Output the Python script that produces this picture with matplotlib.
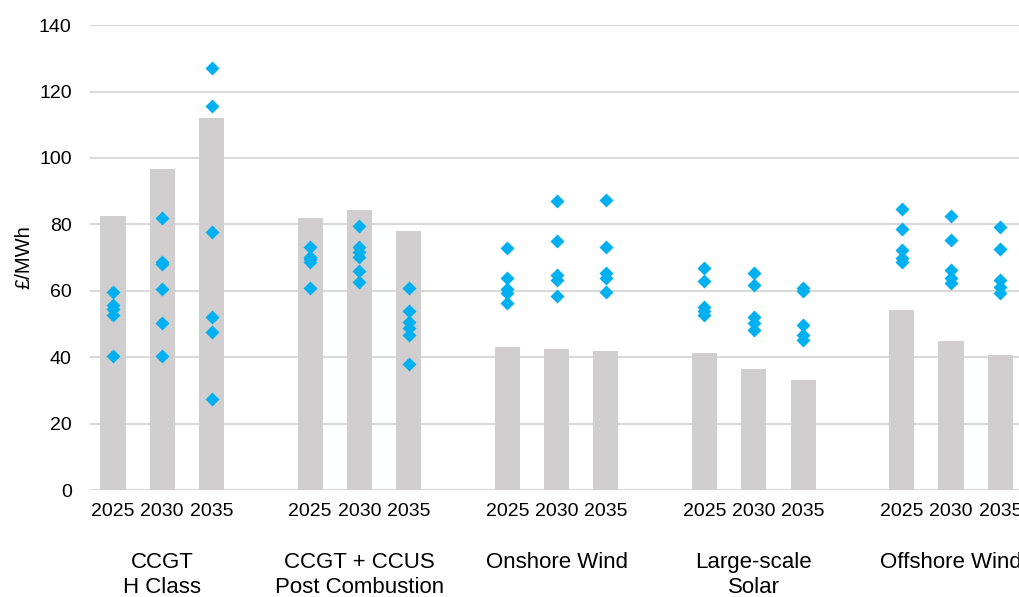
import matplotlib
matplotlib.use("Agg")
import matplotlib.pyplot as plt
import matplotlib.transforms as mtransforms
import numpy as np

plt.rcParams["font.family"] = ["Liberation Sans", "DejaVu Sans"]

technologies = ["CCGT\nH Class", "CCGT + CCUS\nPost Combustion", "Onshore Wind",
                "Large-scale\nSolar", "Offshore Wind"]
years = ["2025", "2030", "2035"]

# bar value (central estimate) per technology and year
bar_values = [
    [82.5, 96.7, 112.0],
    [81.9, 84.3, 78.0],
    [43.2, 42.4, 41.8],
    [41.2, 36.6, 33.1],
    [54.3, 44.8, 40.8],
]

# individual scenario points (diamonds)
points = [
    [[59.7, 55.8, 54.6, 52.8, 40.3],
     [81.8, 68.8, 68.0, 60.4, 50.2, 40.3],
     [127.0, 115.6, 77.8, 52.0, 47.7, 27.4]],
    [[73.1, 70.3, 69.6, 68.8, 61.0],
     [79.6, 73.3, 71.8, 70.3, 65.9, 62.7],
     [61.0, 53.9, 50.7, 48.9, 46.7, 37.9]],
    [[73.0, 64.0, 60.4, 59.2, 56.2],
     [87.0, 75.0, 64.7, 63.2, 58.5],
     [87.3, 73.3, 65.4, 63.9, 59.7]],
    [[66.8, 63.0, 55.2, 54.0, 52.7],
     [65.4, 61.7, 52.2, 50.2, 48.2],
     [61.0, 60.0, 49.7, 46.7, 45.2]],
    [[84.6, 78.6, 72.3, 70.0, 68.7],
     [82.5, 75.3, 66.2, 64.0, 62.4],
     [79.3, 72.5, 63.4, 61.2, 59.4]],
]

bar_color = "#d0cece"
dot_color = "#00b0f0"
grid_color = "#d9d9d9"

fig = plt.figure(figsize=(10.2, 5.97), dpi=100)
ax = fig.add_axes([0.088, 0.179, 0.912, 0.779])

xpos = []
xlabels = []
for g, tech in enumerate(technologies):
    for k, yr in enumerate(years):
        x = g * 4 + k
        xpos.append(x)
        xlabels.append(yr)
        ax.bar(x, bar_values[g][k], width=0.51, color=bar_color, zorder=2)
        vals = points[g][k]
        ax.plot([x] * len(vals), vals, "D", color=dot_color, ms=7.2,
                mec="none", zorder=3)

ax.set_ylim(0, 140)
ax.set_yticks(np.arange(0, 141, 20))
ax.set_xlim(-0.47, 18.4)
ax.set_xticks(xpos)
ax.set_xticklabels(xlabels)
ax.tick_params(axis="both", length=0, labelsize=14, colors="#000000")
ax.tick_params(axis="y", pad=13)
ax.tick_params(axis="x", pad=9)
ax.yaxis.grid(True, color=grid_color, lw=1.5, zorder=0)
ax.set_axisbelow(True)
for s in ax.spines.values():
    s.set_visible(False)
ax.set_ylabel("£/MWh", fontsize=14.5, labelpad=4)

trans = mtransforms.blended_transform_factory(ax.transData, ax.transAxes)
for g, tech in enumerate(technologies):
    ax.text(g * 4 + 1, -0.134, tech, transform=trans, ha="center", va="top",
            fontsize=16, linespacing=1.25)

fig.savefig("out.png", dpi=100)
